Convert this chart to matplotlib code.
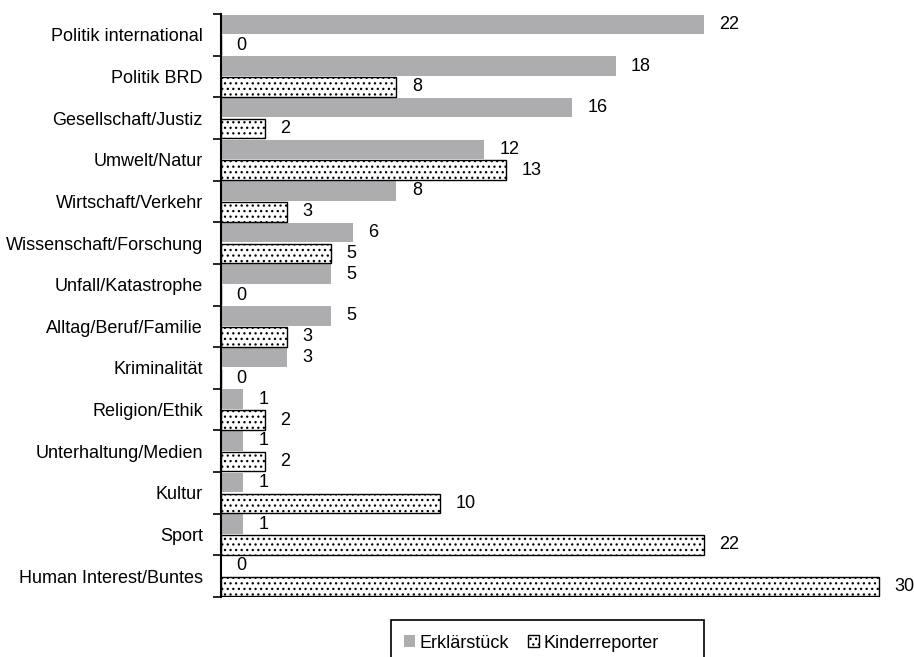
import matplotlib.pyplot as plt
from matplotlib.patches import Rectangle
import numpy as np

plt.rcParams['font.family'] = ['Liberation Sans', 'DejaVu Sans']
plt.rcParams['hatch.linewidth'] = 0.9
plt.rcParams['hatch.color'] = '#555555'

# Themen und Anteile je Format
themen = ['Politik international', 'Politik BRD', 'Gesellschaft/Justiz', 'Umwelt/Natur',
          'Wirtschaft/Verkehr', 'Wissenschaft/Forschung', 'Unfall/Katastrophe',
          'Alltag/Beruf/Familie', 'Kriminalität', 'Religion/Ethik',
          'Unterhaltung/Medien', 'Kultur', 'Sport', 'Human Interest/Buntes']
erklaerstueck = [22, 18, 16, 12, 8, 6, 5, 5, 3, 1, 1, 1, 1, 0]
kinderreporter = [0, 8, 2, 13, 3, 5, 0, 3, 0, 2, 2, 10, 22, 30]

fig = plt.figure(figsize=(9.14, 6.57), dpi=100)
ax = fig.add_axes([221/914, 1-597/657, 680/914, 583/657])

y = np.arange(len(themen))
h = 0.47
b1 = ax.barh(y - 0.25, erklaerstueck, height=h, color='#adadaf', label='Erklärstück')
b2 = ax.barh(y + 0.25, kinderreporter, height=h, color='white', edgecolor='black',
             linewidth=1, hatch='...', label='Kinderreporter')

for yy, v in zip(y, erklaerstueck):
    ax.annotate(str(v), (v, yy - 0.25), xytext=(11, 0), textcoords='offset points',
                ha='left', va='center', fontsize=13)
for yy, v in zip(y, kinderreporter):
    ax.annotate(str(v), (v, yy + 0.25), xytext=(11, 0), textcoords='offset points',
                ha='left', va='center', fontsize=13)

ax.set_ylim(len(themen) - 0.5, -0.5)
ax.set_xlim(0, 31)
ax.set_yticks(y)
ax.set_yticklabels(themen, fontsize=13)
ax.set_yticks(np.arange(-0.5, len(themen)), minor=True)
ax.tick_params(axis='y', which='major', length=0, pad=13)
ax.tick_params(axis='y', which='minor', length=5.5, width=1.2, direction='out')
ax.set_xticks([])
for s in ['top', 'right', 'bottom']:
    ax.spines[s].set_visible(False)
ax.spines['left'].set_linewidth(1.5)

# Legende ohne eigenen Rahmen, Rahmen separat (unten abgeschnitten)
leg = fig.legend(handles=[b1, b2], loc='center left',
                 bbox_to_anchor=(404/914, 1-643/657),
                 ncol=2, fontsize=13, frameon=False,
                 handlelength=0.6, handleheight=0.6, handletextpad=0.25,
                 columnspacing=1.05, borderpad=0, borderaxespad=0)
fig.patches.append(Rectangle((391/914, -0.02), 313/914, 0.02 + 37/657,
                             transform=fig.transFigure, fill=False,
                             edgecolor='black', linewidth=1.2))

fig.savefig('out.png', dpi=100)
